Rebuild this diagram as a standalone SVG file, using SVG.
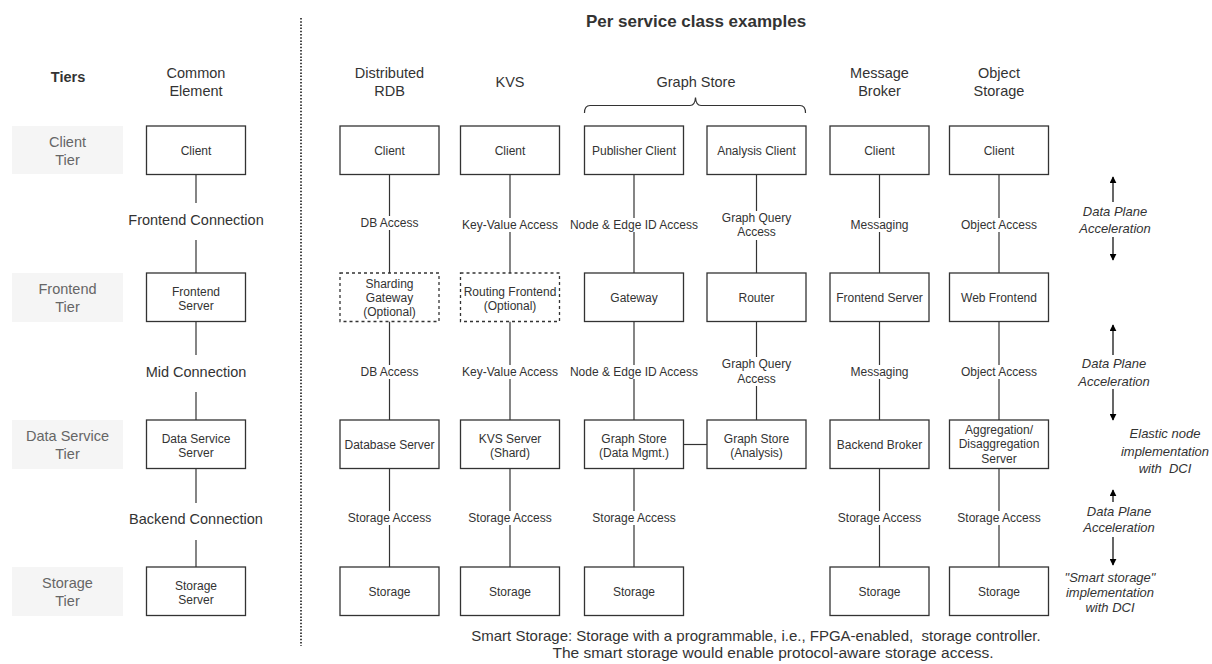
<svg xmlns="http://www.w3.org/2000/svg" width="1212" height="664" viewBox="0 0 1212 664">
<style>
text{font-family:"Liberation Sans",Arial,sans-serif;fill:#333;text-anchor:middle;white-space:pre}
.box{fill:#fff;stroke:#333;stroke-width:1.3}
.dbox{fill:#fff;stroke:#333;stroke-width:1.3;stroke-dasharray:3 3}
.tier{fill:#f5f5f5;stroke:none}
.tt{font-size:14.5px;fill:#666}
.hd{font-size:14.5px}
.bt{font-size:12px}
.lb{font-size:12px}
.cl{font-size:14.5px}
.an{font-size:13px;font-style:italic}
.ln{stroke:#333;stroke-width:1.2;fill:none}
.arr{stroke:#000;stroke-width:1.2;fill:none}
.bg{fill:#fff}
</style>
<defs>
<marker id="ah" viewBox="0 0 10 10" refX="9" refY="5" markerWidth="7" markerHeight="7" orient="auto" markerUnits="userSpaceOnUse">
<path d="M0,0 L10,5 L0,10 Z" fill="#000"/>
</marker>
</defs>
<rect width="1212" height="664" fill="#fff"/>

<!-- separator -->
<line x1="301" y1="18" x2="301" y2="646" stroke="#333" stroke-width="1.8" stroke-dasharray="1.5 1.7"/>

<!-- headers -->
<g id="headers">
<text x="68" y="82" class="hd" font-weight="bold">Tiers</text>
<text x="196" y="78" class="hd">Common</text>
<text x="196" y="96" class="hd">Element</text>
<text x="696" y="27" style="font-size:17px;font-weight:bold">Per service class examples</text>
<text x="389.5" y="78" class="hd">Distributed</text>
<text x="389.5" y="96" class="hd">RDB</text>
<text x="510" y="87" class="hd">KVS</text>
<text x="696" y="87" class="hd">Graph Store</text>
<path d="M584.5,113 Q584.5,105.5 590,105.5 L690,105.5 Q695,105.5 695.5,97.5 Q696,105.5 701,105.5 L800,105.5 Q805.5,105.5 805.5,113" class="ln" stroke="#555"/>
<text x="879.5" y="78" class="hd">Message</text>
<text x="879.5" y="96" class="hd">Broker</text>
<text x="999" y="78" class="hd">Object</text>
<text x="999" y="96" class="hd">Storage</text>
</g>

<!-- tier labels -->
<g id="tier-client"><rect class="tier" x="12" y="126" width="111" height="48"/><text x="67.5" y="147" class="tt">Client</text><text x="67.5" y="165" class="tt">Tier</text></g>
<g id="tier-frontend"><rect class="tier" x="12" y="273" width="111" height="49"/><text x="67.5" y="294" class="tt">Frontend</text><text x="67.5" y="312" class="tt">Tier</text></g>
<g id="tier-data"><rect class="tier" x="12" y="420" width="111" height="49"/><text x="67.5" y="441" class="tt">Data Service</text><text x="67.5" y="459" class="tt">Tier</text></g>
<g id="tier-storage"><rect class="tier" x="12" y="567" width="111" height="49"/><text x="67.5" y="588" class="tt">Storage</text><text x="67.5" y="606" class="tt">Tier</text></g>

<!-- connectors -->
<g id="connectors">
<line class="ln" x1="196" y1="174.5" x2="196" y2="203"/>
<line class="ln" x1="196" y1="240" x2="196" y2="273"/>
<line class="ln" x1="196" y1="321.5" x2="196" y2="355"/>
<line class="ln" x1="196" y1="392" x2="196" y2="420"/>
<line class="ln" x1="196" y1="468.5" x2="196" y2="503"/>
<line class="ln" x1="196" y1="540" x2="196" y2="567"/>
<line class="ln" x1="389.5" y1="174.5" x2="389.5" y2="273"/>
<line class="ln" x1="389.5" y1="321.5" x2="389.5" y2="420"/>
<line class="ln" x1="389.5" y1="468.5" x2="389.5" y2="567"/>
<line class="ln" x1="510" y1="174.5" x2="510" y2="273"/>
<line class="ln" x1="510" y1="321.5" x2="510" y2="420"/>
<line class="ln" x1="510" y1="468.5" x2="510" y2="567"/>
<line class="ln" x1="634" y1="174.5" x2="634" y2="273"/>
<line class="ln" x1="634" y1="321.5" x2="634" y2="420"/>
<line class="ln" x1="634" y1="468.5" x2="634" y2="567"/>
<line class="ln" x1="756.5" y1="174.5" x2="756.5" y2="273"/>
<line class="ln" x1="756.5" y1="321.5" x2="756.5" y2="420"/>
<line class="ln" x1="683.5" y1="444.5" x2="707" y2="444.5"/>
<line class="ln" x1="879.5" y1="174.5" x2="879.5" y2="273"/>
<line class="ln" x1="879.5" y1="321.5" x2="879.5" y2="420"/>
<line class="ln" x1="879.5" y1="468.5" x2="879.5" y2="567"/>
<line class="ln" x1="999" y1="174.5" x2="999" y2="273"/>
<line class="ln" x1="999" y1="321.5" x2="999" y2="420"/>
<line class="ln" x1="999" y1="468.5" x2="999" y2="567"/>

<text x="196" y="225" class="cl">Frontend Connection</text>
<text x="196" y="377" class="cl">Mid Connection</text>
<text x="196" y="524" class="cl">Backend Connection</text>

<rect class="bg" x="359" y="216" width="61" height="14"/><text x="389.5" y="227" class="lb">DB Access</text>
<rect class="bg" x="461" y="218" width="98" height="14"/><text x="510" y="229" class="lb">Key-Value Access</text>
<rect class="bg" x="570" y="218" width="128" height="14"/><text x="634" y="229" class="lb">Node &amp; Edge ID Access</text>
<rect class="bg" x="720" y="211" width="73" height="29"/><text x="756.5" y="222" class="lb">Graph Query</text><text x="756.5" y="236" class="lb">Access</text>
<rect class="bg" x="849" y="218" width="61" height="14"/><text x="879.5" y="229" class="lb">Messaging</text>
<rect class="bg" x="960" y="218" width="78" height="14"/><text x="999" y="229" class="lb">Object Access</text>

<rect class="bg" x="359" y="365" width="61" height="14"/><text x="389.5" y="376" class="lb">DB Access</text>
<rect class="bg" x="461" y="365" width="98" height="14"/><text x="510" y="376" class="lb">Key-Value Access</text>
<rect class="bg" x="570" y="365" width="128" height="14"/><text x="634" y="376" class="lb">Node &amp; Edge ID Access</text>
<rect class="bg" x="720" y="357" width="73" height="29"/><text x="756.5" y="368" class="lb">Graph Query</text><text x="756.5" y="383" class="lb">Access</text>
<rect class="bg" x="849" y="365" width="61" height="14"/><text x="879.5" y="376" class="lb">Messaging</text>
<rect class="bg" x="960" y="365" width="78" height="14"/><text x="999" y="376" class="lb">Object Access</text>

<rect class="bg" x="347" y="511" width="85" height="14"/><text x="389.5" y="522" class="lb">Storage Access</text>
<rect class="bg" x="467.5" y="511" width="85" height="14"/><text x="510" y="522" class="lb">Storage Access</text>
<rect class="bg" x="591.5" y="511" width="85" height="14"/><text x="634" y="522" class="lb">Storage Access</text>
<rect class="bg" x="837" y="511" width="85" height="14"/><text x="879.5" y="522" class="lb">Storage Access</text>
<rect class="bg" x="956.5" y="511" width="85" height="14"/><text x="999" y="522" class="lb">Storage Access</text>
</g>

<g id="common-client"><rect class="box" x="146.5" y="126" width="99" height="48.5"/><text x="196" y="155" class="bt">Client</text></g>
<g id="common-frontend"><rect class="box" x="146.5" y="273" width="99" height="48.5"/><text x="196" y="296" class="bt">Frontend</text><text x="196" y="310" class="bt">Server</text></g>
<g id="common-data"><rect class="box" x="146.5" y="420" width="99" height="48.5"/><text x="196" y="443" class="bt">Data Service</text><text x="196" y="457" class="bt">Server</text></g>
<g id="common-storage"><rect class="box" x="146.5" y="567" width="99" height="48.5"/><text x="196" y="590" class="bt">Storage</text><text x="196" y="604" class="bt">Server</text></g>

<g id="rdb-client"><rect class="box" x="340" y="126" width="99" height="48.5"/><text x="389.5" y="155" class="bt">Client</text></g>
<g id="rdb-gateway"><rect class="dbox" x="340" y="273" width="99" height="48.5"/><text x="389.5" y="288" class="bt">Sharding</text><text x="389.5" y="302" class="bt">Gateway</text><text x="389.5" y="316" class="bt">(Optional)</text></g>
<g id="rdb-server"><rect class="box" x="340" y="420" width="99" height="48.5"/><text x="389.5" y="449" class="bt">Database Server</text></g>
<g id="rdb-storage"><rect class="box" x="340" y="567" width="99" height="48.5"/><text x="389.5" y="596" class="bt">Storage</text></g>

<g id="kvs-client"><rect class="box" x="460.5" y="126" width="99" height="48.5"/><text x="510" y="155" class="bt">Client</text></g>
<g id="kvs-frontend"><rect class="dbox" x="460.5" y="273" width="99" height="48.5"/><text x="510" y="296" class="bt">Routing Frontend</text><text x="510" y="310" class="bt">(Optional)</text></g>
<g id="kvs-server"><rect class="box" x="460.5" y="420" width="99" height="48.5"/><text x="510" y="443" class="bt">KVS Server</text><text x="510" y="457" class="bt">(Shard)</text></g>
<g id="kvs-storage"><rect class="box" x="460.5" y="567" width="99" height="48.5"/><text x="510" y="596" class="bt">Storage</text></g>

<g id="gs-pub-client"><rect class="box" x="584.5" y="126" width="99" height="48.5"/><text x="634" y="155" class="bt">Publisher Client</text></g>
<g id="gs-ana-client"><rect class="box" x="707" y="126" width="99" height="48.5"/><text x="756.5" y="155" class="bt">Analysis Client</text></g>
<g id="gs-gateway"><rect class="box" x="584.5" y="273" width="99" height="48.5"/><text x="634" y="302" class="bt">Gateway</text></g>
<g id="gs-router"><rect class="box" x="707" y="273" width="99" height="48.5"/><text x="756.5" y="302" class="bt">Router</text></g>
<g id="gs-datamgmt"><rect class="box" x="584.5" y="420" width="99" height="48.5"/><text x="634" y="443" class="bt">Graph Store</text><text x="634" y="457" class="bt">(Data Mgmt.)</text></g>
<g id="gs-analysis"><rect class="box" x="707" y="420" width="99" height="48.5"/><text x="756.5" y="443" class="bt">Graph Store</text><text x="756.5" y="457" class="bt">(Analysis)</text></g>
<g id="gs-storage"><rect class="box" x="584.5" y="567" width="99" height="48.5"/><text x="634" y="596" class="bt">Storage</text></g>

<g id="mb-client"><rect class="box" x="830" y="126" width="99" height="48.5"/><text x="879.5" y="155" class="bt">Client</text></g>
<g id="mb-frontend"><rect class="box" x="830" y="273" width="99" height="48.5"/><text x="879.5" y="302" class="bt">Frontend Server</text></g>
<g id="mb-backend"><rect class="box" x="830" y="420" width="99" height="48.5"/><text x="879.5" y="449" class="bt">Backend Broker</text></g>
<g id="mb-storage"><rect class="box" x="830" y="567" width="99" height="48.5"/><text x="879.5" y="596" class="bt">Storage</text></g>

<g id="os-client"><rect class="box" x="949.5" y="126" width="99" height="48.5"/><text x="999" y="155" class="bt">Client</text></g>
<g id="os-frontend"><rect class="box" x="949.5" y="273" width="99" height="48.5"/><text x="999" y="302" class="bt">Web Frontend</text></g>
<g id="os-aggr"><rect class="box" x="949.5" y="420" width="99" height="48.5"/><text x="999" y="433.5" class="bt">Aggregation/</text><text x="999" y="448" class="bt">Disaggregation</text><text x="999" y="462.5" class="bt">Server</text></g>
<g id="os-storage"><rect class="box" x="949.5" y="567" width="99" height="48.5"/><text x="999" y="596" class="bt">Storage</text></g>

<g id="ann-dpa1">
<line class="arr" x1="1113" y1="202" x2="1113" y2="177" marker-end="url(#ah)"/>
<text x="1115" y="215.5" class="an">Data Plane</text>
<text x="1115" y="232.5" class="an">Acceleration</text>
<line class="arr" x1="1113" y1="237" x2="1113" y2="260" marker-end="url(#ah)"/>
</g>
<g id="ann-dpa2">
<line class="arr" x1="1113" y1="355" x2="1113" y2="325" marker-end="url(#ah)"/>
<text x="1114" y="367.5" class="an">Data Plane</text>
<text x="1114" y="385.5" class="an">Acceleration</text>
<line class="arr" x1="1113" y1="389" x2="1113" y2="420" marker-end="url(#ah)"/>
</g>
<g id="ann-elastic">
<text x="1165" y="437.5" class="an">Elastic node</text>
<text x="1165" y="455.5" class="an">implementation</text>
<text x="1165" y="472.5" class="an">with  DCI</text>
</g>
<g id="ann-dpa3">
<line class="arr" x1="1113" y1="502" x2="1113" y2="490" marker-end="url(#ah)"/>
<text x="1119" y="515.5" class="an">Data Plane</text>
<text x="1119" y="532" class="an">Acceleration</text>
<line class="arr" x1="1113" y1="537" x2="1113" y2="565" marker-end="url(#ah)"/>
</g>
<g id="ann-smart">
<text x="1110" y="581.5" class="an">"Smart storage"</text>
<text x="1110" y="596.5" class="an">implementation</text>
<text x="1110" y="611.5" class="an">with DCI</text>
</g>
<g id="footnote">
<text x="756" y="641" style="font-size:15px">Smart Storage: Storage with a programmable, i.e., FPGA-enabled,  storage controller.</text>
<text x="773" y="658" style="font-size:15.5px">The smart storage would enable protocol-aware storage access.</text>
</g>
</svg>
